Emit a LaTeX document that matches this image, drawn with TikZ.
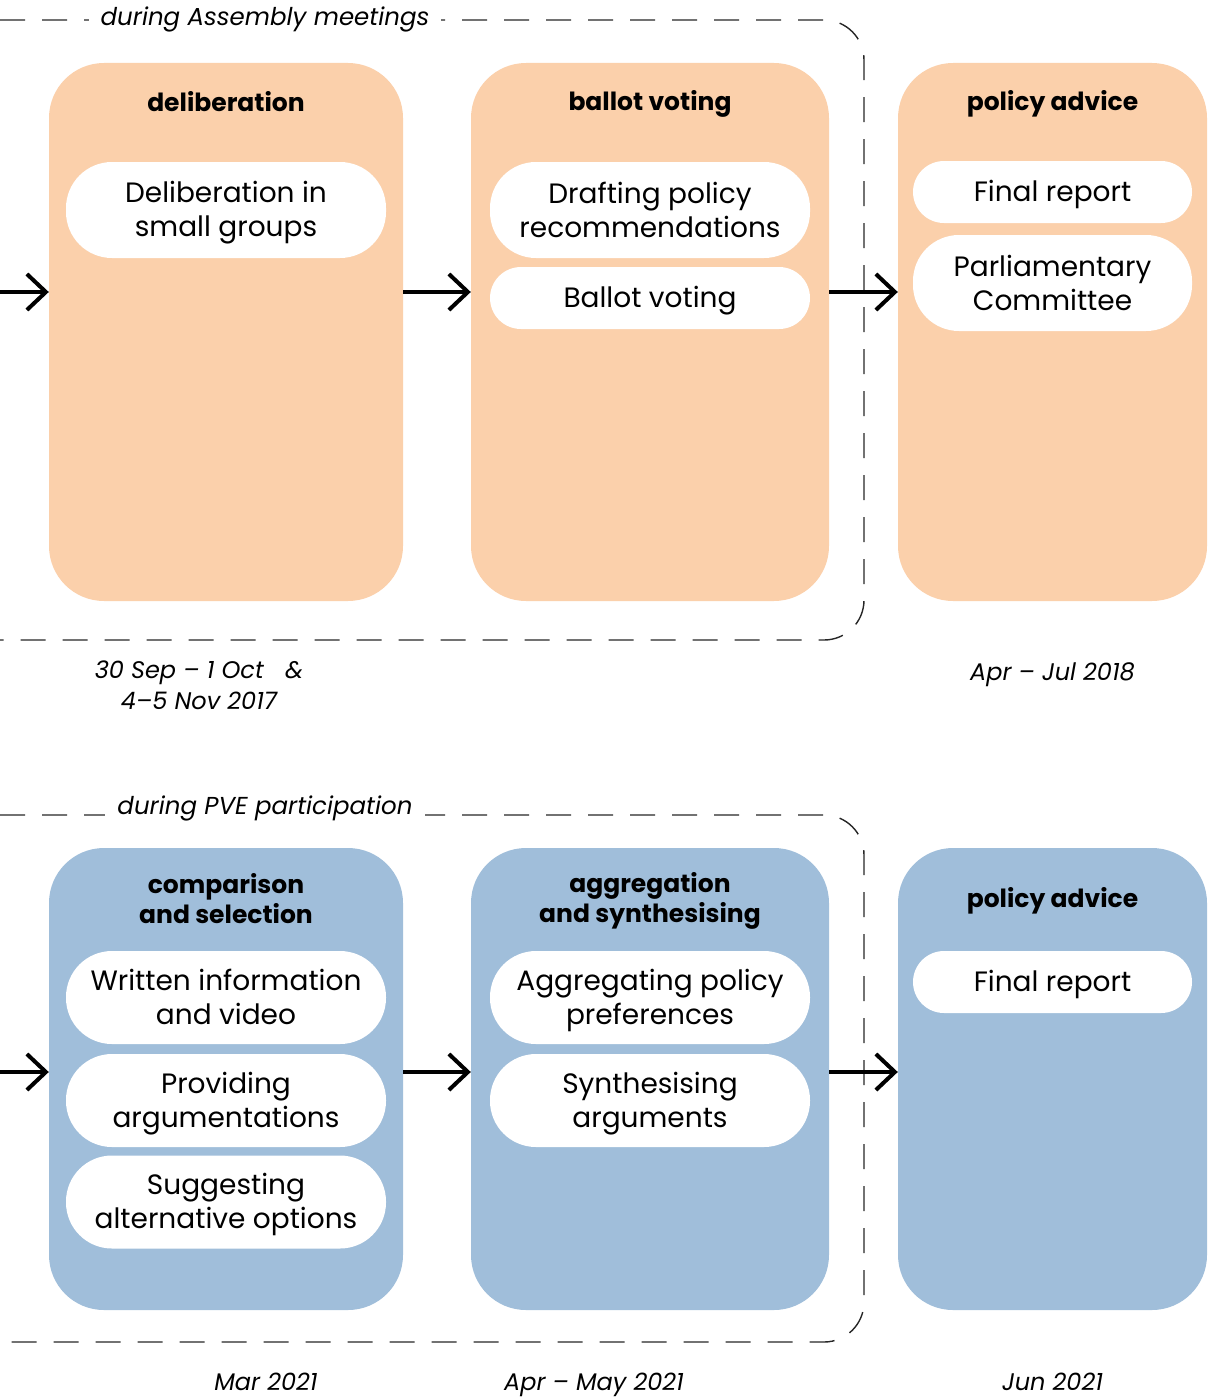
\documentclass[tikz,border=0pt]{standalone}
\usepackage{fontspec}
\setmainfont{Poppins}
\usetikzlibrary{arrows.meta,calc}
\definecolor{peach}{HTML}{FBD0AB}
\definecolor{steel}{HTML}{A0BEDA}
% struts that fix the height/depth of the node text
\newcommand\pillstrut{\rule[-7pt]{0pt}{34pt}}
\newcommand\pilltwostrut{\rule[-7pt]{0pt}{68pt}}
\newcommand\ttlstrut{\rule[-5pt]{0pt}{30pt}}
\newcommand\datestrut{\rule[-6pt]{0pt}{31pt}}
\begin{document}
\begin{tikzpicture}[x=1pt,y=-1pt,
  stagebox/.style={rectangle, rounded corners=55pt, inner sep=0pt, draw=none},
  pill/.style={rectangle, fill=white, inner sep=0pt, align=center,
    font=\fontsize{28}{34}\selectfont},
  pillone/.style={pill, rounded corners=31pt, minimum height=62pt,
    execute at begin node=\pillstrut},
  pilltwo/.style={pill, rounded corners=46pt, minimum height=96pt,
    execute at begin node=\pilltwostrut},
  ttl/.style={align=center, inner sep=0pt, font=\bfseries\fontsize{25}{30}\selectfont,
    execute at begin node=\ttlstrut, execute at end node=\ttlstrut},
  datelbl/.style={align=center, inner sep=0pt, font=\itshape\fontsize{24}{31}\selectfont,
    execute at begin node=\datestrut, execute at end node=\datestrut},
  framelbl/.style={fill=white, inner xsep=12pt, inner ysep=4pt, font=\itshape\fontsize{24.5}{30}\selectfont},
  frame/.style={draw=black!85, line width=1.4pt, dash pattern=on 25pt off 17pt, rounded corners=40pt},
  arr/.style={line width=4pt, -{Straight Barb[length=19pt,width=36pt]}}]
\useasboundingbox (0,0) rectangle (1213,1397);

% ---------- Citizens' Assembly ----------
\draw[frame] (0,20) -- (864,20) -- (864,640) -- (0,640);
\node[framelbl] (fa) at (265,19) {during Assembly meetings};

\node[stagebox, fill=peach, minimum width=354pt, minimum height=538pt] (a1) at (226,332) {};
\node[stagebox, fill=peach, minimum width=358pt, minimum height=538pt] (a2) at (650,332) {};
\node[stagebox, fill=peach, minimum width=309pt, minimum height=538pt] (a3) at (1052.5,332) {};

\node[ttl] (a1t) at (226,101) {deliberation};
\node[ttl] (a2t) at (650,101) {ballot voting};
\node[ttl] (a3t) at (1052.5,101) {policy advice};

\node[pilltwo, minimum width=320pt] (a1p1) at (226,210) {Deliberation in\\small groups};
\node[pilltwo, minimum width=320pt] (a2p1) at (650,210) {Drafting policy\\recommendations};
\node[pillone, minimum width=320pt] (a2p2) at (650,298) {Ballot voting};
\node[pillone, minimum width=279pt] (a3p1) at (1052.5,192) {Final report};
\node[pilltwo, minimum width=279pt] (a3p2) at (1052.5,283) {Parliamentary\\Committee};

\coordinate (as) at (0,292);
\draw[arr] (as) -- (as -| a1.west);
\draw[arr] (a1.east |- as) -- (a2.west |- as);
\draw[arr] (a2.east |- as) -- (a3.west |- as);

\node[datelbl] (ad1) at (199,688) {30 Sep -- 1 Oct\ \ \ \&\\4--5 Nov 2017};
\node[datelbl] (ad2) at (1052.5,671) {Apr -- Jul 2018};

% ---------- PVE ----------
\draw[frame] (0,815) -- (864,815) -- (864,1342) -- (0,1342);
\node[framelbl] (fb) at (265,808) {during PVE participation};

\node[stagebox, fill=steel, minimum width=354pt, minimum height=462pt] (b1) at (226,1079) {};
\node[stagebox, fill=steel, minimum width=358pt, minimum height=462pt] (b2) at (650,1079) {};
\node[stagebox, fill=steel, minimum width=309pt, minimum height=462pt] (b3) at (1052.5,1079) {};

\node[ttl] (b1t) at (226,901) {comparison\\and selection};
\node[ttl] (b2t) at (650,901) {aggregation\\and synthesising};
\node[ttl] (b3t) at (1052.5,898) {policy advice};

\node[pilltwo, minimum width=320pt, minimum height=93pt] (b1p1) at (226,997.5) {Written information\\and video};
\node[pilltwo, minimum width=320pt, minimum height=93pt] (b1p2) at (226,1100.5) {Providing\\argumentations};
\node[pilltwo, minimum width=320pt, minimum height=93pt] (b1p3) at (226,1202) {Suggesting\\alternative options};
\node[pilltwo, minimum width=320pt, minimum height=93pt] (b2p1) at (650,997.5) {Aggregating policy\\preferences};
\node[pilltwo, minimum width=320pt, minimum height=93pt] (b2p2) at (650,1100.5) {Synthesising\\arguments};
\node[pillone, minimum width=279pt] (b3p1) at (1052.5,982) {Final report};

\coordinate (bs) at (0,1072);
\draw[arr] (bs) -- (bs -| b1.west);
\draw[arr] (b1.east |- bs) -- (b2.west |- bs);
\draw[arr] (b2.east |- bs) -- (b3.west |- bs);

\node[datelbl] (bd1) at (266,1381) {Mar 2021};
\node[datelbl] (bd2) at (594,1381) {Apr -- May 2021};
\node[datelbl] (bd3) at (1052.5,1381) {Jun 2021};
\end{tikzpicture}
\end{document}
